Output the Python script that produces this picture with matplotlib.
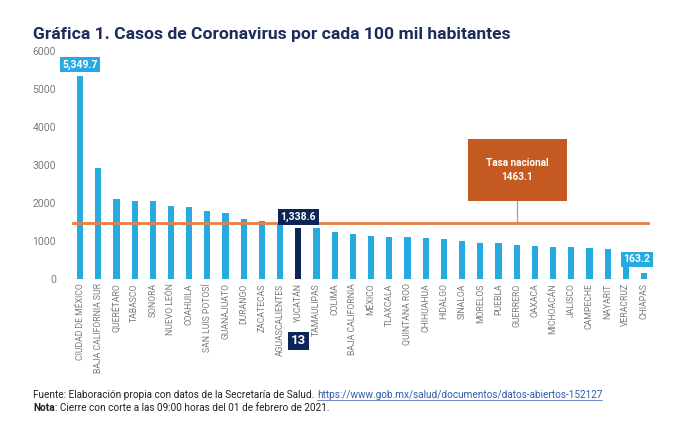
import matplotlib
matplotlib.use("Agg")
import matplotlib.pyplot as plt
from matplotlib.patches import Rectangle

states = ["CIUDAD DE MÉXICO", "BAJA CALIFORNIA SUR", "QUERÉTARO", "TABASCO", "SONORA",
          "NUEVO LEÓN", "COAHUILA", "SAN LUIS POTOSÍ", "GUANAJUATO", "DURANGO",
          "ZACATECAS", "AGUASCALIENTES", "YUCATÁN", "TAMAULIPAS", "COLIMA",
          "BAJA CALIFORNIA", "MÉXICO", "TLAXCALA", "QUINTANA ROO", "CHIHUAHUA",
          "HIDALGO", "SINALOA", "MORELOS", "PUEBLA", "GUERRERO", "OAXACA",
          "MICHOACÁN", "JALISCO", "CAMPECHE", "NAYARIT", "VERACRUZ", "CHIAPAS"]
values = [5349.7, 2930, 2097, 2053, 2050, 1913, 1886, 1789, 1737, 1570,
          1515, 1485, 1338.6, 1333, 1228, 1175, 1123, 1114, 1110, 1088,
          1044, 1000, 956, 939, 886, 868, 842, 840, 807, 780, 560, 163.2]
national_rate = 1463.1
yticks = [0, 1000, 2000, 3000, 4000, 5000, 6000]
highlight = "YUCATÁN"
rank_label = "13"

plt.rcParams['font.family'] = ['Roboto', 'DejaVu Sans']

BLUE = "#27AAE1"
NAVY = "#0C2557"
ORANGE_LINE = "#E8803F"
ORANGE_BOX = "#C45A22"
GRAY = "#7a7a7a"

fig = plt.figure(figsize=(6.96, 4.43), dpi=100)
ax = fig.add_axes([0.1006, 0.370, 0.8404, 0.515])

x = list(range(len(states)))
colors = [NAVY if s == highlight else BLUE for s in states]
ax.bar(x, values, width=0.34, color=colors, zorder=2)

ax.set_ylim(0, 6000)
ax.set_xlim(-0.55, 31.6)
ax.set_yticks(yticks)
ax.set_yticklabels([str(t) for t in yticks], color=GRAY, fontsize=7.5)
ax.set_xticks(x)
ax.set_xticklabels(states, rotation=90, fontsize=6.2, color=GRAY)
ax.tick_params(axis='both', length=0)
ax.tick_params(axis='y', pad=10)
ax.tick_params(axis='x', pad=3)
for s in ax.spines.values():
    s.set_visible(False)
ax.axhline(0, color="#d9d9d9", lw=1, zorder=1)

# national rate line
ax.plot([-0.4, 31.2], [national_rate, national_rate], color=ORANGE_LINE, lw=2.0, zorder=3)
# connector and box
ax.plot([24.03, 24.03], [national_rate, 2063], color="#a0a0a0", lw=0.9, zorder=2)
ax.add_patch(Rectangle((21.3, 2063), 5.46, 1614, fc=ORANGE_BOX, ec='none', zorder=3))
ax.text(24.03, 2870, "Tasa nacional\n1463.1", ha='center', va='center',
        color='white', fontsize=7.2, fontweight='bold', linespacing=1.5, zorder=4)

# value labels
ax.text(0, 5640, "5,349.7", ha='center', va='center', color='white', fontsize=7.5,
        fontweight='bold', zorder=5,
        bbox=dict(boxstyle='square,pad=0.25', fc=BLUE, ec='none'))
ax.text(12, 1630, "1,338.6", ha='center', va='center', color='white', fontsize=7.5,
        fontweight='bold', zorder=5,
        bbox=dict(boxstyle='square,pad=0.25', fc=NAVY, ec='none'))
ax.text(30.6, 520, "163.2", ha='center', va='center', color='white', fontsize=7.5,
        fontweight='bold', zorder=5,
        bbox=dict(boxstyle='square,pad=0.25', fc=BLUE, ec='none'))

# rank label below Yucatán
xd = ax.transData.transform((12, 0))[0]
fig.text(xd / 696, 1 - 341 / 443, rank_label, ha='center', va='center', color='white',
         fontsize=9.5, fontweight='bold',
         bbox=dict(boxstyle='square,pad=0.2', fc=NAVY, ec='none'))

# title
fig.text(33 / 696, 1 - 35 / 443, "Gráfica 1. Casos de Coronavirus por cada 100 mil habitantes",
         ha='left', va='center', fontsize=12.6, fontweight='bold', color="#1B2D5B")

# footer
fig.canvas.draw()
r = fig.canvas.get_renderer()
y1 = 1 - 395 / 443
y2 = 1 - 408 / 443
FS = 7.2
t1 = fig.text(33 / 696, y1, "Fuente: Elaboración propia con datos de la Secretaría de Salud. ",
              ha='left', va='center', fontsize=FS, color="#222222")
bb = t1.get_window_extent(r)
link = fig.text(bb.x1 / 696, y1, "https://www.gob.mx/salud/documentos/datos-abiertos-152127",
                ha='left', va='center', fontsize=FS, color="#2F5DA8",
                url="https://www.gob.mx/salud/documentos/datos-abiertos-152127")
t3 = fig.text(33 / 696, y2, "Nota", ha='left', va='center', fontsize=FS,
              fontweight='bold', color="#222222")
bb3 = t3.get_window_extent(r)
fig.text(bb3.x1 / 696, y2, ": Cierre con corte a las 09:00 horas del 01 de febrero de 2021.",
         ha='left', va='center', fontsize=FS, color="#222222")

# underline for link
lb = link.get_window_extent(r)
fig.add_artist(plt.Line2D([lb.x0 / 696, lb.x1 / 696], [(lb.y0 + 0.5) / 443] * 2,
                          color="#2F5DA8", lw=0.5))

fig.savefig("out.png", dpi=100)
